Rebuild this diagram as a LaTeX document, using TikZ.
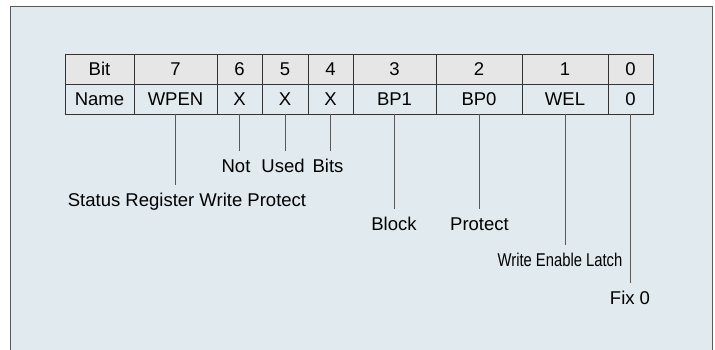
\documentclass[tikz,border=0pt]{standalone}
\usepackage{fontspec}
\setmainfont{Liberation Sans}
\usepackage{graphicx}
\definecolor{panel}{rgb}{0.882,0.918,0.933}
\definecolor{headgray}{rgb}{0.902,0.902,0.902}
\definecolor{rule1}{rgb}{0.2,0.2,0.2}
\definecolor{rule2}{rgb}{0.35,0.35,0.35}
\tikzset{
  bitcell/.style={draw=rule1, line width=0.8pt, fill=headgray, minimum height=30pt, inner sep=0pt, outer sep=0pt},
  namecell/.style={draw=rule1, line width=0.8pt, fill=panel, minimum height=30pt, inner sep=0pt, outer sep=0pt},
  note/.style={anchor=base, inner sep=8pt, outer sep=0pt},
  pin/.style={draw=rule2, line width=0.8pt}
}

\begin{document}
\begin{tikzpicture}[x=1pt, y=-1pt, font=\fontsize{18.5}{22}\selectfont]
\useasboundingbox (0,0) rectangle (715,350);
\fill[color=white] (0,0) rectangle (715,350);
\fill[color=panel] (10,6) rectangle (712,350);
\draw[rule2, line width=0.9pt] (10,350) -- (10,6) -- (712,6) -- (712,350);

\foreach \l/\r/\b/\n [count=\i] in {65/134/Bit/Name,134/217/7/WPEN,217/262/6/X,262/308/5/X,308/353/4/X,353/436/3/BP1,436/522/2/BP0,522/608/1/WEL,608/653/0/0}
{
\node[bitcell, minimum width={(\r-\l)*1pt}] (bit\i) at ({(\l+\r)/2},69) {\b};
\node[namecell, minimum width={(\r-\l)*1pt}] (name\i) at ({(\l+\r)/2},99) {\n};
}

\node[note] (wpnote) at (187,206) {Status Register Write Protect};
\node[note] (notnote) at (236,172) {Not};
\node[note] (usednote) at (283,172) {Used};
\node[note] (bitsnote) at (328,172) {Bits};
\node[note] (blocknote) at (394,230) {Block};
\node[note] (protnote) at (479.5,230) {Protect};
\node[note] (latchnote) at (560,266) {\scalebox{0.8}[1]{Write Enable Latch}};
\node[note] (fixnote) at (630,304) {Fix 0};

\draw[pin] (name2.south) -- (name2.south |- wpnote.north);
\draw[pin] (name3.south) -- (name3.south |- notnote.north);
\draw[pin] (name4.south) -- (name4.south |- usednote.north);
\draw[pin] (name5.south) -- (name5.south |- bitsnote.north);
\draw[pin] (name6.south) -- (name6.south |- blocknote.north);
\draw[pin] (name7.south) -- (name7.south |- protnote.north);
\draw[pin] (name8.south) -- (name8.south |- latchnote.north);
\draw[pin] (name9.south) -- (name9.south |- fixnote.north);
\end{tikzpicture}
\end{document}
